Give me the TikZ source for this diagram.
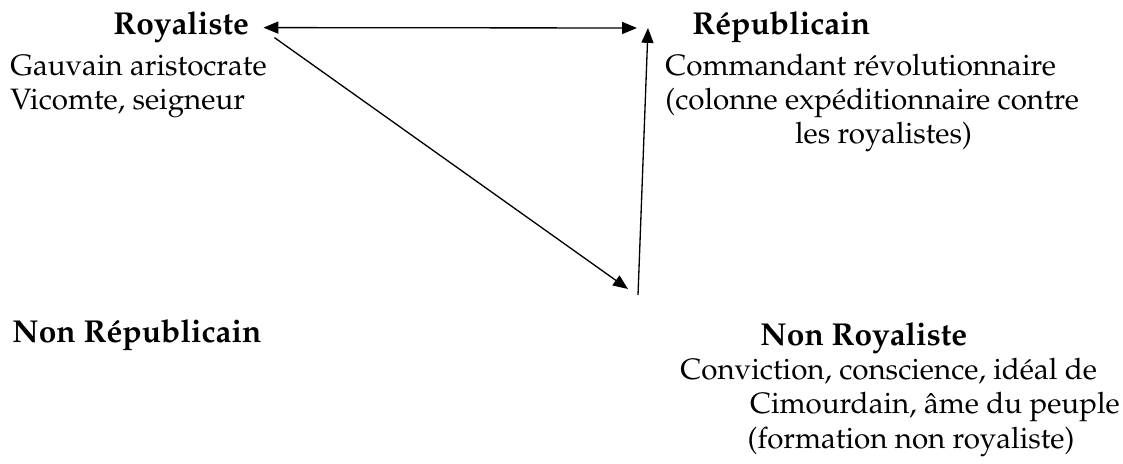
\documentclass[tikz,border=0pt]{standalone}
\usepackage[T1]{fontenc}
\usepackage{mathpazo}
\usepackage{tikz}
\usetikzlibrary{arrows.meta,calc}

\begin{document}
\begin{tikzpicture}[x=0.41667pt, y=-0.41667pt, >={Triangle[length=6.2pt,width=5pt]},
        titre/.style={inner sep=0pt, font=\fontsize{13.2}{15}\selectfont\bfseries},
        texte/.style={inner sep=0pt, align=left, font=\fontsize{12.3}{14.2}\selectfont},
        fleche/.style={line width=0.55pt}]
        \useasboundingbox (0,0) rectangle (1123,464);
        % Royaliste (haut gauche)
        \node[titre, anchor=base west] (R) at (113,35) {Royaliste};
        \node[texte, anchor=base west] (Rt) at (10,110) {Gauvain aristocrate\\Vicomte, seigneur};
        % Républicain (haut droite)
        \node[titre, anchor=base west] (P) at (692,35) {Républicain};
        \node[texte, anchor=base west] (Pt) at (665,144)
            {Commandant révolutionnaire\\(colonne expéditionnaire contre\\\hspace*{54pt}les royalistes)};
        % Non Républicain (bas gauche)
        \node[titre, anchor=base west] (NP) at (12,343) {Non Républicain};
        % Non Royaliste (bas droite)
        \node[titre, anchor=base west] (NR) at (760,345) {Non Royaliste};
        \node[texte, anchor=base west] (NRt) at (680,448)
            {Conviction, conscience, idéal de\\\hspace*{29pt}Cimourdain, âme du peuple\\\hspace*{28pt}(formation non royaliste)};
        % Flèches
        \coordinate (c1) at (637,28);
        \coordinate (c2) at (628,289);
        \coordinate (c3) at (638,295);
        \coordinate (c4) at (648,28);
        \draw[fleche, <->] ($(R.east)+(14,0)$) -- (c1);
        \draw[fleche, ->] ($(R.east)+(25,10)$) -- (c2);
        \draw[fleche, ->] (c3) -- (c4);
    \end{tikzpicture}
\end{document}
